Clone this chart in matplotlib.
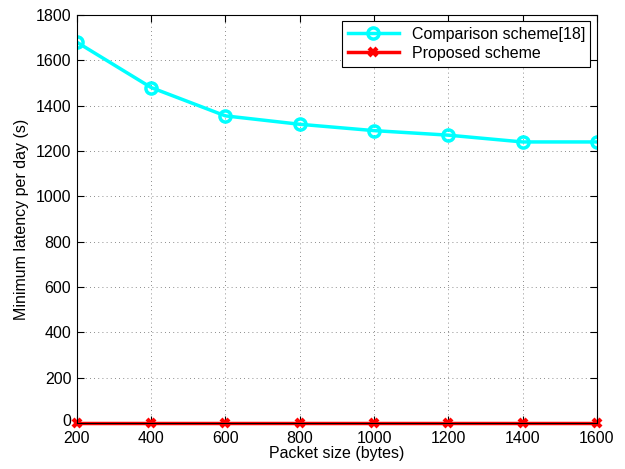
import matplotlib
matplotlib.use("Agg")
import matplotlib.pyplot as plt
from matplotlib.transforms import ScaledTranslation

packet_size = [200, 400, 600, 800, 1000, 1200, 1400, 1600]
comparison = [1680, 1480, 1355, 1318, 1290, 1270, 1240, 1240]
proposed = [0, 0, 0, 0, 0, 0, 0, 0]

plt.rcParams['font.family'] = ['Liberation Sans', 'DejaVu Sans']
plt.rcParams['font.size'] = 11.5

fig = plt.figure(figsize=(6.25, 4.69), dpi=100)
ax = fig.add_axes([0.123, 0.098, 0.832, 0.870])

ax.plot(packet_size, comparison, color='cyan', lw=2.5, marker='o', ms=8,
        mfc='none', mec='cyan', mew=2.5, label='Comparison scheme[18]')
ax.plot(packet_size, proposed, color='red', lw=2.5, marker='x', ms=6,
        mec='red', mew=3, label='Proposed scheme', clip_on=False)

ax.set_xlim(200, 1600)
ax.set_ylim(0, 1800)
ax.set_xticks(range(200, 1601, 200))
ax.set_yticks(range(0, 1801, 200))
ax.grid(True, color='black', linestyle=(0, (1, 4)), linewidth=0.6, alpha=0.6)
ax.tick_params(direction='in', top=True, right=True, length=5, width=0.8)
ax.tick_params(axis='x', pad=6)
ax.tick_params(axis='y', pad=4)
for s in ax.spines.values():
    s.set_linewidth(0.8)
# nudge the "0" label up a few pixels so it clears the "200" below it
lbl0 = ax.get_yticklabels()[0]
lbl0.set_transform(lbl0.get_transform() + ScaledTranslation(0, 2.5 / 72, fig.dpi_scale_trans))

ax.set_xlabel('Packet size (bytes)', labelpad=0)
ax.set_ylabel('Minimum latency per day (s)', labelpad=5)

leg = ax.legend(loc='upper right', fancybox=False, edgecolor='black',
                framealpha=1, borderaxespad=0.4, handlelength=3.2,
                borderpad=0.35, labelspacing=0.25)
leg.get_frame().set_linewidth(0.8)

fig.savefig('out.png', dpi=100)
